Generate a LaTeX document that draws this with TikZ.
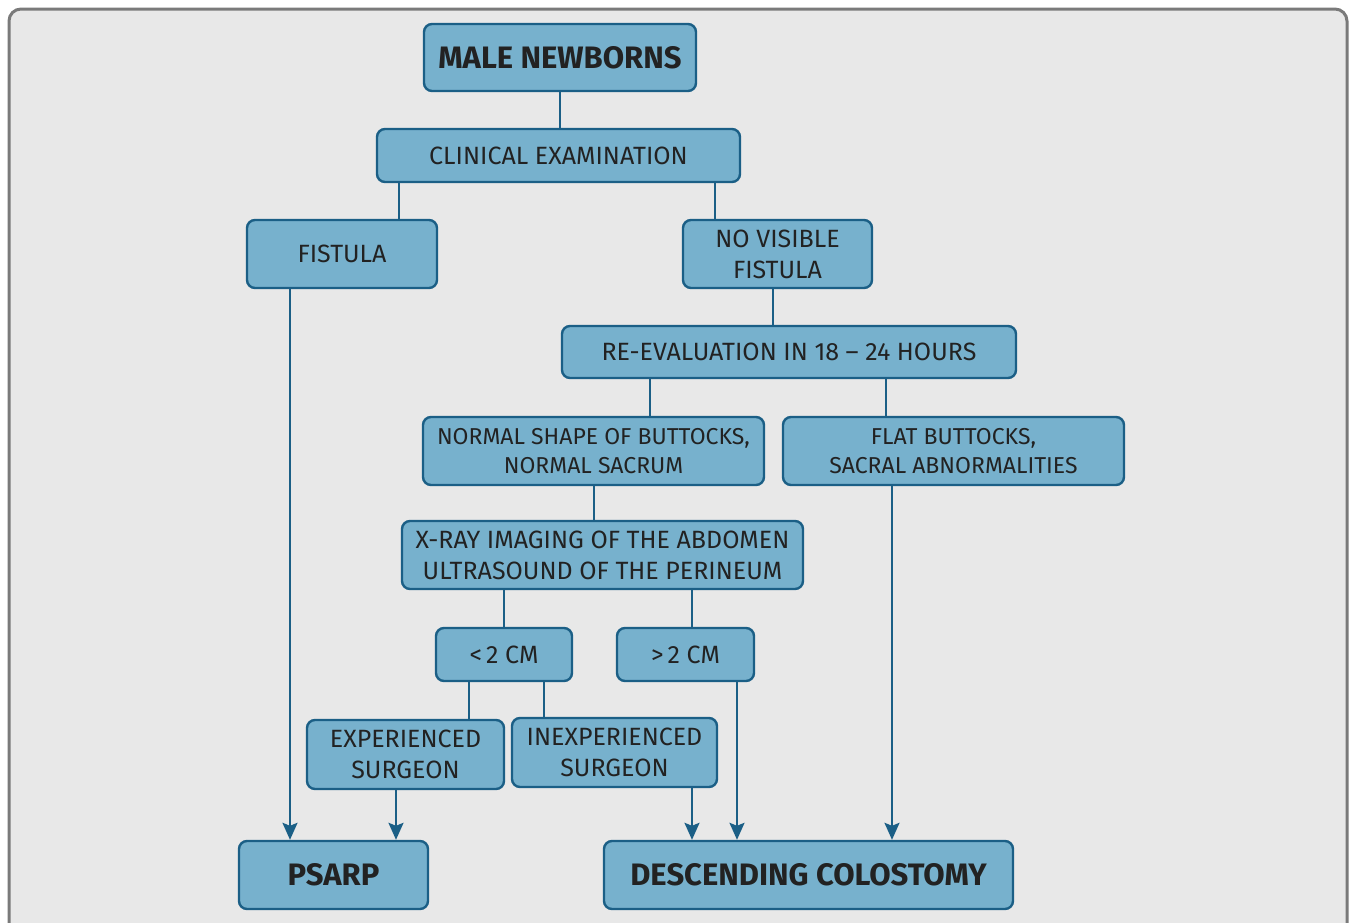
\documentclass[tikz,border=0pt]{standalone}
\usepackage{fontspec}
\setmainfont{Fira Sans}
\usetikzlibrary{arrows.meta}
\definecolor{boxfill}{HTML}{77B1CD}
\definecolor{boxline}{HTML}{1B5F86}
\definecolor{bgfill}{HTML}{E8E8E8}
\definecolor{bgline}{HTML}{7A7A7A}
\definecolor{txt}{HTML}{222222}
\tikzset{
  fbox/.style={draw=boxline, fill=boxfill, line width=2.4pt, rounded corners=8pt,
    text=txt, align=center, inner sep=0pt, font=\fontsize{25}{31}\selectfont},
  fboxs/.style={fbox, font=\fontsize{23}{28.5}\selectfont},
  fboxb/.style={fbox, font=\fontsize{31}{34}\selectfont\bfseries},
  link/.style={draw=boxline, line width=2.2pt},
  arr/.style={link, -{Stealth[length=17pt,width=15pt,inset=3pt]}}
}
\begin{document}
\begin{tikzpicture}[x=1pt,y=-1pt]
\useasboundingbox (0,0) rectangle (1353,922);
\draw[fill=bgfill, draw=bgline, line width=3pt, rounded corners=12pt] (9,9) rectangle (1347,940);

\node[fboxb, minimum width=272pt, minimum height=67pt] (male) at (560,57.5) {MALE NEWBORNS};
\node[fbox, minimum width=363pt, minimum height=53pt] (clin) at (558.5,155.5) {CLINICAL EXAMINATION};
\node[fbox, minimum width=190pt, minimum height=68pt] (fist) at (342,254) {FISTULA};
\node[fbox, minimum width=189pt, minimum height=68pt] (novis) at (777.5,254) {NO VISIBLE\\FISTULA};
\node[fbox, minimum width=454pt, minimum height=52pt] (reeval) at (789,352) {RE-EVALUATION IN 18 -- 24 HOURS};
\node[fboxs, minimum width=341pt, minimum height=68pt] (normal) at (593.5,451) {NORMAL SHAPE OF BUTTOCKS,\\NORMAL SACRUM};
\node[fboxs, minimum width=341pt, minimum height=68pt] (flat) at (953.5,451) {FLAT BUTTOCKS,\\SACRAL ABNORMALITIES};
\node[fbox, minimum width=401pt, minimum height=68pt] (xray) at (602.5,555) {X-RAY IMAGING OF THE ABDOMEN\\ULTRASOUND OF THE PERINEUM};
\node[fbox, minimum width=136pt, minimum height=53pt] (lt) at (504,654.5) {<\,2 CM};
\node[fbox, minimum width=137pt, minimum height=53pt] (gt) at (685.5,654.5) {>\,2 CM};
\node[fbox, minimum width=197pt, minimum height=69pt] (exp) at (405.5,754.5) {EXPERIENCED\\SURGEON};
\node[fbox, minimum width=205pt, minimum height=69pt] (inexp) at (614.5,752.5) {INEXPERIENCED\\SURGEON};
\node[fboxb, minimum width=189pt, minimum height=68pt] (psarp) at (333.5,875) {PSARP};
\node[fboxb, minimum width=409pt, minimum height=68pt] (desc) at (808.5,875) {DESCENDING COLOSTOMY};

% plain links
\draw[link] (male.south) -- (male.south |- clin.north);
\path ([xshift=57pt]fist.north) coordinate (c1);
\draw[link] (c1) -- (c1 |- clin.south);
\path ([xshift=-62.5pt]novis.north) coordinate (c2);
\draw[link] (c2) -- (c2 |- clin.south);
\path ([xshift=-4.5pt]novis.south) coordinate (c3);
\draw[link] (c3) -- (c3 |- reeval.north);
\path ([xshift=56.5pt]normal.north) coordinate (c4);
\draw[link] (c4) -- (c4 |- reeval.south);
\path ([xshift=-67.5pt]flat.north) coordinate (c5);
\draw[link] (c5) -- (c5 |- reeval.south);
\path ([xshift=0.5pt]normal.south) coordinate (c6);
\draw[link] (c6) -- (c6 |- xray.north);
\path (lt.north) coordinate (c7);
\draw[link] (c7) -- (c7 |- xray.south);
\path ([xshift=6.5pt]gt.north) coordinate (c8);
\draw[link] (c8) -- (c8 |- xray.south);
\path ([xshift=63.5pt]exp.north) coordinate (c9);
\draw[link] (c9) -- (c9 |- lt.south);
\path ([xshift=-70.5pt]inexp.north) coordinate (c10);
\draw[link] (c10) -- (c10 |- lt.south);

% arrows
\path ([xshift=-52pt]fist.south) coordinate (a1);
\draw[arr] (a1) -- (a1 |- psarp.north);
\path ([xshift=-9.5pt]exp.south) coordinate (a2);
\draw[arr] (a2) -- (a2 |- psarp.north);
\path ([xshift=77.5pt]inexp.south) coordinate (a3);
\draw[arr] (a3) -- (a3 |- desc.north);
\path ([xshift=51.5pt]gt.south) coordinate (a4);
\draw[arr] (a4) -- (a4 |- desc.north);
\path ([xshift=-61.5pt]flat.south) coordinate (a5);
\draw[arr] (a5) -- (a5 |- desc.north);
\end{tikzpicture}
\end{document}
